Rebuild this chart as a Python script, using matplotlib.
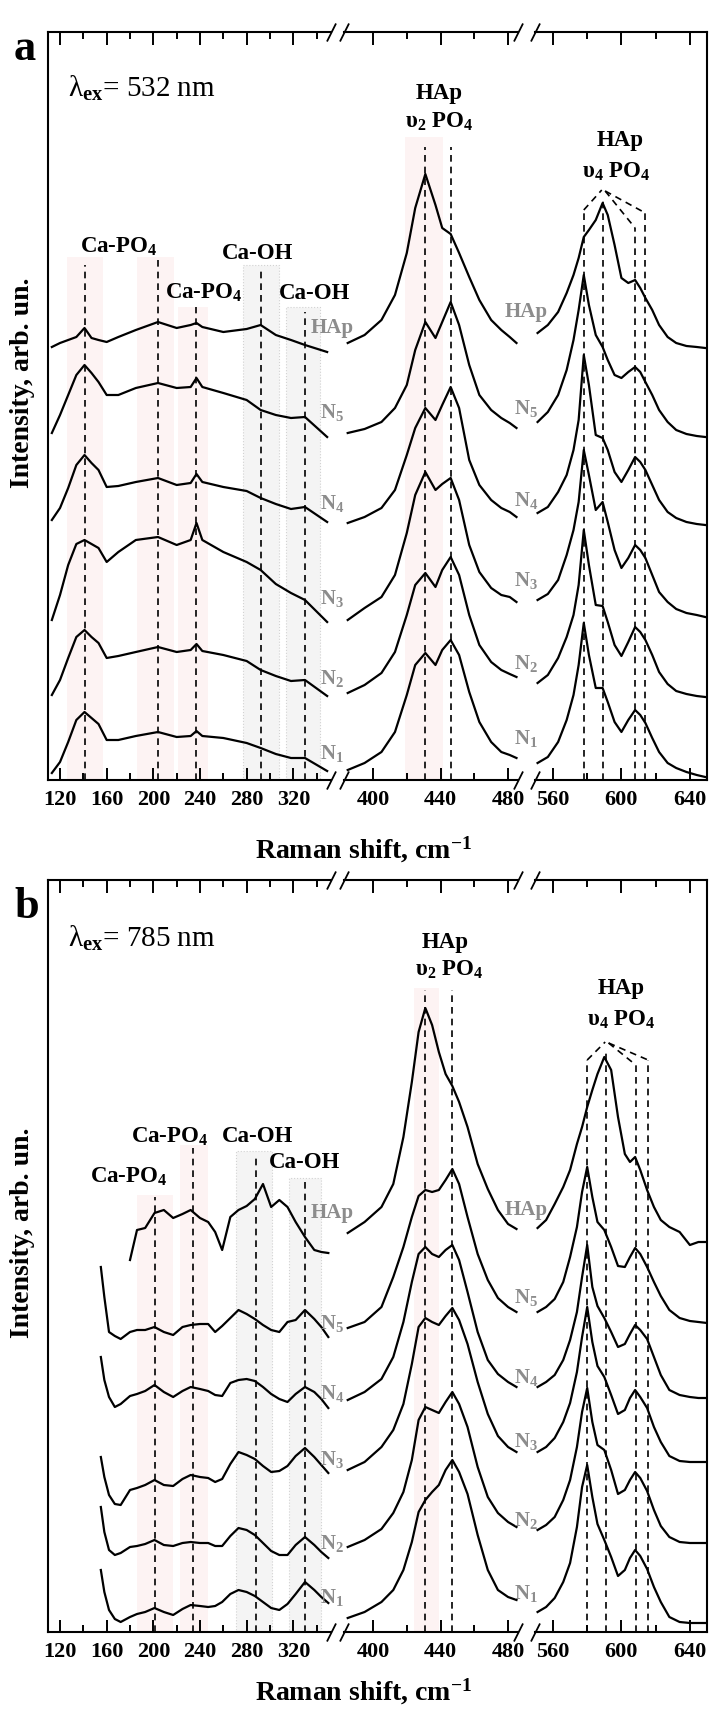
import numpy as np
import matplotlib
matplotlib.use("Agg")
import matplotlib.pyplot as plt
from matplotlib.ticker import MultipleLocator
from matplotlib.patches import Rectangle

plt.rcParams['font.family'] = ['Liberation Serif', 'DejaVu Serif']
plt.rcParams['font.weight'] = 'bold'
plt.rcParams['mathtext.fontset'] = 'custom'
plt.rcParams['mathtext.rm'] = 'Liberation Serif'
plt.rcParams['mathtext.bf'] = 'Liberation Serif:bold'
plt.rcParams['mathtext.it'] = 'Liberation Serif:italic'
plt.rcParams['mathtext.default'] = 'bf'

# ---- panel a: excitation 532 nm (stacked spectra, arb. units) ----
shift_a = [113, 120, 127, 134, 141, 147, 153, 160, 170, 185, 204, 220, 232, 237, 242, 260, 280, 292, 305, 318, 330, 349,
           385, 395, 405, 413, 420, 425, 431, 437, 441, 446, 451, 457, 463, 470, 476, 481, 485,
           551, 557, 563, 568, 572, 575, 578, 581, 585, 589, 592, 596, 600, 604, 608, 611, 614, 618, 622, 627, 632, 638, 644, 649]
a_hap = [433, 437, 440, 443, 452, 442, 440, 438, 443, 450, 458, 452, 455, 457, 453, 448, 451, 455, 445, 440, 435, 428,
         437, 445, 460, 485, 527, 572, 606, 575, 552, 546, 527, 503, 480, 460, 450, 443, 437,
         447, 455, 468, 487, 505, 522, 543, 550, 560, 577, 565, 535, 502, 497, 500, 492, 482, 470, 455, 443, 437, 434, 433, 432]
a_n5 = [347, 365, 385, 405, 415, 407, 398, 385, 385, 392, 397, 392, 393, 402, 393, 387, 380, 370, 365, 362, 363, 343,
        347, 351, 358, 372, 395, 430, 458, 442, 458, 478, 455, 415, 385, 370, 362, 357, 352,
        358, 368, 385, 410, 440, 470, 505, 475, 445, 433, 420, 405, 402, 408, 413, 408, 398, 385, 370, 358, 350, 346, 344, 343]
a_n4 = [260, 272, 292, 315, 325, 317, 310, 293, 294, 298, 302, 295, 297, 306, 298, 293, 289, 282, 276, 271, 273, 258,
        257, 263, 272, 290, 325, 352, 372, 360, 375, 393, 372, 320, 295, 280, 272, 268, 263,
        267, 273, 288, 305, 330, 360, 425, 395, 345, 342, 330, 308, 298, 310, 323, 318, 310, 295, 280, 268, 262, 258, 256, 255]
a_n3 = [160, 185, 215, 236, 240, 236, 232, 218, 228, 240, 243, 235, 240, 257, 240, 228, 218, 210, 196, 187, 180, 158,
        160, 172, 183, 205, 247, 285, 308, 290, 296, 302, 280, 235, 208, 192, 185, 183, 178,
        180, 186, 200, 225, 250, 278, 330, 305, 270, 278, 258, 230, 212, 222, 235, 230, 222, 205, 188, 178, 171, 167, 165, 163]
a_n2 = [85, 100, 122, 143, 150, 143, 137, 122, 124, 128, 133, 128, 130, 136, 129, 125, 119, 110, 104, 99, 100, 84,
        87, 95, 107, 128, 165, 195, 207, 193, 210, 223, 205, 165, 135, 118, 110, 106, 103,
        97, 105, 122, 143, 165, 195, 250, 215, 175, 174, 158, 135, 124, 138, 153, 148, 140, 125, 108, 96, 89, 86, 84, 83]
a_n1 = [7, 18, 38, 60, 68, 62, 56, 40, 40, 44, 48, 43, 44, 49, 44, 42, 37, 32, 26, 22, 22, 9,
        10, 17, 28, 48, 85, 115, 127, 115, 130, 140, 125, 88, 58, 38, 28, 25, 22,
        17, 23, 38, 60, 85, 115, 157, 125, 92, 92, 78, 58, 48, 60, 70, 65, 57, 42, 28, 17, 12, 8, 5, 3]

# ---- panel b: excitation 785 nm ----
shift_b = [155, 158, 162, 167, 172, 180, 186, 193, 201, 209, 217, 225, 232, 240, 247, 253, 259, 266, 273, 280, 287, 294,
           301, 308, 315, 322, 330, 338, 344, 350,
           385, 395, 405, 412, 418, 423, 427, 431, 435, 439, 443, 447, 451, 456, 462, 468, 474, 480, 485,
           551, 556, 561, 566, 570, 574, 577, 580, 583, 586, 590, 594, 598, 602, 605, 608, 611, 615, 619, 623, 628, 634,
           640, 645, 650]
b_hap = [None, None, None, None, None, 372, 402, 404, 419, 422, 414, 418, 422, 414, 410, 400, 382, 415, 422, 426, 433, 448,
         425, 432, 425, 410, 395, 382, 380, 379,
         399, 410, 425, 448, 495, 550, 600, 624, 607, 580, 558, 546, 530, 505, 468, 443, 422, 408, 403,
         404, 412, 428, 445, 462, 488, 505, 525, 542, 558, 575, 562, 515, 478, 470, 475, 462, 442, 425, 412, 405, 400,
         387, 390, 390]
b_n5 = [365, 335, 300, 296, 293, 300, 302, 302, 305, 300, 297, 305, 307, 308, 308, 300, 306, 314, 322, 318, 313, 307,
        302, 300, 310, 312, 322, 313, 305, 295,
        304, 310, 325, 355, 385, 415, 436, 442, 440, 442, 452, 463, 448, 415, 378, 352, 334, 325, 320,
        320, 325, 333, 350, 375, 405, 440, 465, 435, 410, 402, 385, 366, 365, 375, 384, 378, 365, 350, 336, 322, 314,
        311, 310, 309]
b_n4 = [275, 252, 235, 225, 228, 236, 238, 241, 247, 240, 235, 241, 245, 243, 241, 237, 236, 249, 252, 253, 251, 245,
        238, 233, 230, 238, 245, 240, 233, 224,
        232, 240, 253, 275, 310, 350, 378, 385, 378, 375, 382, 387, 372, 340, 300, 272, 258, 250, 245,
        245, 250, 257, 272, 292, 320, 355, 387, 345, 326, 314, 300, 285, 288, 298, 307, 302, 293, 275, 257, 242, 237,
        235, 234, 234]
b_n3 = [175, 155, 137, 128, 127, 142, 144, 147, 152, 147, 146, 153, 157, 155, 154, 150, 153, 168, 180, 177, 173, 166,
        160, 161, 166, 176, 184, 175, 167, 159,
        162, 170, 185, 202, 228, 268, 305, 314, 310, 307, 316, 324, 312, 288, 250, 218, 196, 185, 180,
        180, 185, 194, 210, 229, 260, 295, 325, 290, 266, 255, 237, 218, 222, 234, 242, 235, 224, 205, 190, 176, 171,
        170, 170, 170]
b_n2 = [125, 100, 82, 77, 79, 85, 86, 88, 92, 87, 86, 89, 90, 89, 89, 86, 86, 96, 104, 102, 97, 89,
        81, 77, 77, 87, 95, 87, 80, 74,
        85, 92, 103, 119, 140, 172, 212, 225, 222, 219, 230, 240, 228, 205, 165, 135, 119, 110, 105,
        102, 107, 115, 132, 152, 185, 220, 244, 210, 187, 182, 162, 138, 142, 152, 160, 154, 141, 122, 106, 95, 90,
        89, 89, 89]
b_n1 = [62, 40, 22, 13, 10, 15, 18, 20, 24, 20, 17, 23, 27, 26, 25, 26, 30, 38, 42, 40, 36, 30,
        24, 22, 28, 38, 50, 42, 35, 29,
        14, 20, 30, 42, 62, 90, 120, 132, 140, 147, 162, 172, 160, 138, 97, 62, 42, 35, 32,
        20, 25, 34, 50, 69, 105, 145, 167, 135, 108, 92, 75, 56, 62, 74, 82, 76, 63, 45, 30, 15, 10,
        9, 9, 9]

sample_names = ['HAp', 'N$_5$', 'N$_4$', 'N$_3$', 'N$_2$', 'N$_1$']
# label heights next to the breaks: (after first segment, after second segment)
a_label_y = [(452, 468), (368, 372), (277, 280), (182, 200), (102, 117), (27, 42)]
b_label_y = [(419, 422), (309, 334), (239, 255), (172, 190), (89, 112), (35, 39)]

# peak markers (position, top height) and shaded bands (from, to, top)
a_lines = [[(141, 515), (204, 520), (237, 473), (292, 512), (330, 468)],
           [(431, 633), (446, 633)],
           [(578, 570), (589, 583), (608, 552), (614, 567)]]
a_apex = (589, 590)
a_pink = [(126, 157, 523), (186, 218, 523), (221, 247, 473), (419, 441.6, 643)]
a_gray = [(277, 308, 515), (314, 343, 473)]

b_lines = [[(201, 435), (234, 484), (288, 477), (330, 450)],
           [(431, 642), (446.5, 642)],
           [(580, 572), (591, 580), (608.4, 567), (615.6, 572)]]
b_apex = (591, 590)
b_pink = [(186, 217, 437), (223, 247, 487), (424, 439, 644)]
b_gray = [(271, 302, 481), (316, 344, 454)]

W, H = 728, 1717
seg_lims = [(109.7, 352.3), (382.8, 485.9), (549.5, 650.0)]
seg_px = [(48, 331), (344, 518), (535, 707)]
gray_txt = '#8c8c8c'

fig = plt.figure(figsize=(W / 100, H / 100), dpi=100)


def draw_panel(top, bottom, shift, spectra, label_y, lines, apex, pinks, grays, labels, lam, letter, xlab_y):
    shift = np.array(shift, dtype=float)
    axes = []
    for (lo, hi), (x0, x1) in zip(seg_lims, seg_px):
        ax = fig.add_axes([x0 / W, 1 - bottom / H, (x1 - x0) / W, (bottom - top) / H])
        ax.set_facecolor('none')
        ax.set_xlim(lo, hi)
        ax.set_ylim(0, bottom - top)
        ax.set_yticks([])
        ax.xaxis.set_major_locator(MultipleLocator(40))
        ax.xaxis.set_minor_locator(MultipleLocator(20))
        ax.tick_params(axis='x', which='both', direction='in', top=True, bottom=True, width=1.4,
                       labelsize=16, pad=7)
        ax.tick_params(axis='x', which='major', length=9)
        ax.tick_params(axis='x', which='minor', length=5)
        for s in ax.spines.values():
            s.set_linewidth(1.5)
        axes.append(ax)
        # spectra, only the part inside this segment
        m = (shift >= lo) & (shift <= hi)
        for y in spectra:
            y = np.array(y, dtype=float)
            ax.plot(shift[m], y[m], color='k', lw=1.6, zorder=4)
    a1, a2, a3 = axes
    a1.spines['right'].set_visible(False)
    a2.spines['left'].set_visible(False)
    a2.spines['right'].set_visible(False)
    a3.spines['left'].set_visible(False)

    # break marks
    kw = dict(marker=[(-0.5, -1), (0.5, 1)], markersize=13, linestyle='none', color='k', mec='k',
              mew=1.3, clip_on=False, zorder=6)
    a1.plot([1, 1], [0, 1], transform=a1.transAxes, **kw)
    a2.plot([0, 0, 1, 1], [0, 1, 0, 1], transform=a2.transAxes, **kw)
    a3.plot([0, 0], [0, 1], transform=a3.transAxes, **kw)

    # shaded bands
    for x0, x1, t in pinks:
        ax = a1 if x1 < 360 else a2
        ax.add_patch(Rectangle((x0, 0), x1 - x0, t, facecolor='#fdf3f3', edgecolor='none', zorder=1))
    for x0, x1, t in grays:
        a1.add_patch(Rectangle((x0, 0), x1 - x0, t, facecolor='#f4f4f4', edgecolor='#d2d2d2',
                               ls=':', lw=0.8, zorder=1))

    # dashed peak markers
    dash = dict(color='k', lw=1.2, ls=(0, (4, 3)), zorder=3)
    for ax, group in zip(axes, lines):
        for x, t in group:
            ax.plot([x, x], [0, t], **dash)
    for x, t in lines[2]:
        if x < apex[0] - 0.5:
            a3.plot([x, apex[0] - 0.5], [t, apex[1]], **dash)
        elif x > apex[0] + 0.5:
            a3.plot([apex[0] + 1.5, x], [apex[1] - 1, t], **dash)

    # sample names at the breaks
    for name, (y1, y2) in zip(sample_names, label_y):
        a1.text(353.5, y1, name, color=gray_txt, fontsize=15, ha='center', va='center', clip_on=False, zorder=5)
        a2.text(490.5, y2, name, color=gray_txt, fontsize=15, ha='center', va='center', clip_on=False, zorder=5)

    # band annotations
    for ax_i, x, y, txt in labels:
        axes[ax_i].text(x, y, txt, fontsize=16.5, ha='center', va='center', clip_on=False, zorder=5)

    fig.text(68 / W, 1 - lam[1] / H, lam[0], fontsize=21, fontweight='normal', va='baseline')
    fig.text(14 / W, 1 - letter[1] / H, letter[0], fontsize=32, va='baseline')
    fig.text(364 / W, 1 - xlab_y / H, 'Raman shift, cm$^{-1}$', fontsize=20, ha='center', va='baseline')
    fig.text(23 / W, 1 - ((top + bottom) / 2 - 23) / H, 'Intensity, arb. un.', fontsize=20, rotation=90,
             ha='center', va='center')


a_labels = [(0, 170, 533, 'Ca-PO$_4$'), (0, 243, 487, 'Ca-PO$_4$'), (0, 289, 527, 'Ca-OH'), (0, 338, 487, 'Ca-OH'),
            (1, 439, 687, 'HAp'), (1, 439, 658, 'υ$_2$ PO$_4$'),
            (2, 599, 640, 'HAp'), (2, 597, 608, 'υ$_4$ PO$_4$')]
b_labels = [(0, 179, 455, 'Ca-PO$_4$'), (0, 214, 495, 'Ca-PO$_4$'), (0, 289, 495, 'Ca-OH'), (0, 330, 469, 'Ca-OH'),
            (1, 443, 690, 'HAp'), (1, 445, 662, 'υ$_2$ PO$_4$'),
            (2, 600, 644, 'HAp'), (2, 600, 612, 'υ$_4$ PO$_4$')]

draw_panel(32, 780, shift_a, [a_hap, a_n5, a_n4, a_n3, a_n2, a_n1], a_label_y, a_lines, a_apex,
           a_pink, a_gray, a_labels, ('λ$_\\mathrm{ex}$= 532 nm', 97), ('a', 60), 858)
draw_panel(880, 1632, shift_b, [b_hap, b_n5, b_n4, b_n3, b_n2, b_n1], b_label_y, b_lines, b_apex,
           b_pink, b_gray, b_labels, ('λ$_\\mathrm{ex}$= 785 nm', 947), ('b', 918), 1700)

fig.savefig('out.png', dpi=100)
